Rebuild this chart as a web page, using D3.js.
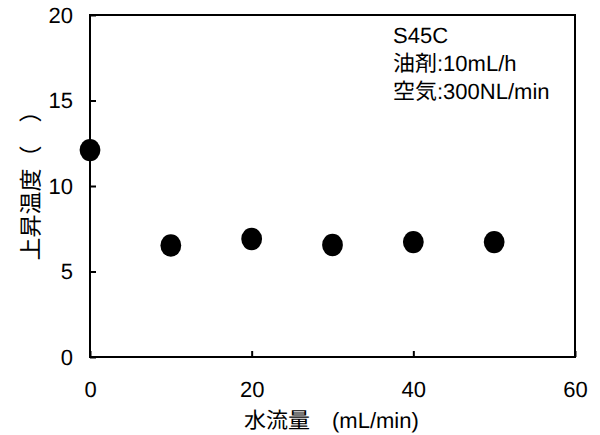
<!DOCTYPE html>
<html>
<head>
<meta charset="utf-8">
<script src="https://cdn.jsdelivr.net/npm/d3@7"></script>
<style>
  html, body { margin: 0; padding: 0; background: #fff; }
  svg { display: block; }
  text { fill: #000; text-rendering: geometricPrecision; }
</style>
</head>
<body>
<svg id="chart" width="600" height="435"></svg>
<script>
// Water flow rate (mL/min) and temperature rise
const flowRates = [0, 10, 20, 30, 40, 50];
const tempRise = [12.1, 6.52, 6.9, 6.55, 6.72, 6.72];

const xTicks = [0, 20, 40, 60];
const yTicks = [0, 5, 10, 15, 20];

const noteLines = ["S45C", "油剤:10mL/h", "空気:300NL/min"];
const xTitleJa = "水流量　";
const xTitleUnit = "(mL/min)";
const yTitle = "上昇温度（　）";

const plot = { left: 90, right: 575, top: 15, bottom: 357 };
const latin = "'Liberation Sans', Arial, sans-serif";
const mixed = "'Liberation Sans', 'Noto Sans CJK JP', sans-serif";
const cjk = "'Noto Sans CJK JP', sans-serif";

const svg = d3.select("#chart");

const x = d3.scaleLinear().domain([0, 60]).range([plot.left, plot.right]);
const y = d3.scaleLinear().domain([0, 20]).range([plot.bottom, plot.top]);

// frame
svg.append("rect")
  .attr("x", plot.left).attr("y", plot.top)
  .attr("width", plot.right - plot.left)
  .attr("height", plot.bottom - plot.top)
  .attr("fill", "none").attr("stroke", "#000").attr("stroke-width", 2);

// y axis with inward ticks
const yAxis = svg.append("g")
  .attr("transform", `translate(${plot.left},0)`)
  .call(d3.axisLeft(y).tickValues(yTicks).tickSize(-6).tickPadding(17));
yAxis.select(".domain").remove();
yAxis.selectAll(".tick line").attr("stroke", "#000").attr("stroke-width", 2);
yAxis.selectAll(".tick text")
  .attr("font-family", latin).attr("font-size", 22).attr("fill", "#000");

// x axis with inward ticks
const xAxis = svg.append("g")
  .attr("transform", `translate(0,${plot.bottom})`)
  .call(d3.axisBottom(x).tickValues(xTicks).tickSize(-6).tickPadding(24));
xAxis.select(".domain").remove();
xAxis.selectAll(".tick line").attr("stroke", "#000").attr("stroke-width", 2);
xAxis.selectAll(".tick text")
  .attr("font-family", latin).attr("font-size", 22).attr("fill", "#000");

// data markers
svg.append("g").selectAll("ellipse")
  .data(flowRates.map((f, i) => ({ f, t: tempRise[i] })))
  .join("ellipse")
  .attr("cx", d => x(d.f))
  .attr("cy", d => y(d.t))
  .attr("rx", 10.4).attr("ry", 11.2)
  .attr("fill", "#000");

// annotation block
svg.append("g").selectAll("text")
  .data(noteLines)
  .join("text")
  .attr("x", 393)
  .attr("y", (d, i) => 43 + i * 28)
  .attr("font-family", mixed)
  .attr("font-size", 22)
  .text(d => d);

// x axis title
const xt = svg.append("text")
  .attr("x", 244).attr("y", 428)
  .attr("font-size", 22);
xt.append("tspan").attr("font-family", cjk).text(xTitleJa);
xt.append("tspan").attr("font-family", latin).text(xTitleUnit);

// y axis title
svg.append("text")
  .attr("transform", "translate(39,180) rotate(-90)")
  .attr("text-anchor", "middle")
  .attr("font-family", cjk)
  .attr("font-size", 23)
  .attr("fill", "#000")
  .text(yTitle);
</script>
</body>
</html>
